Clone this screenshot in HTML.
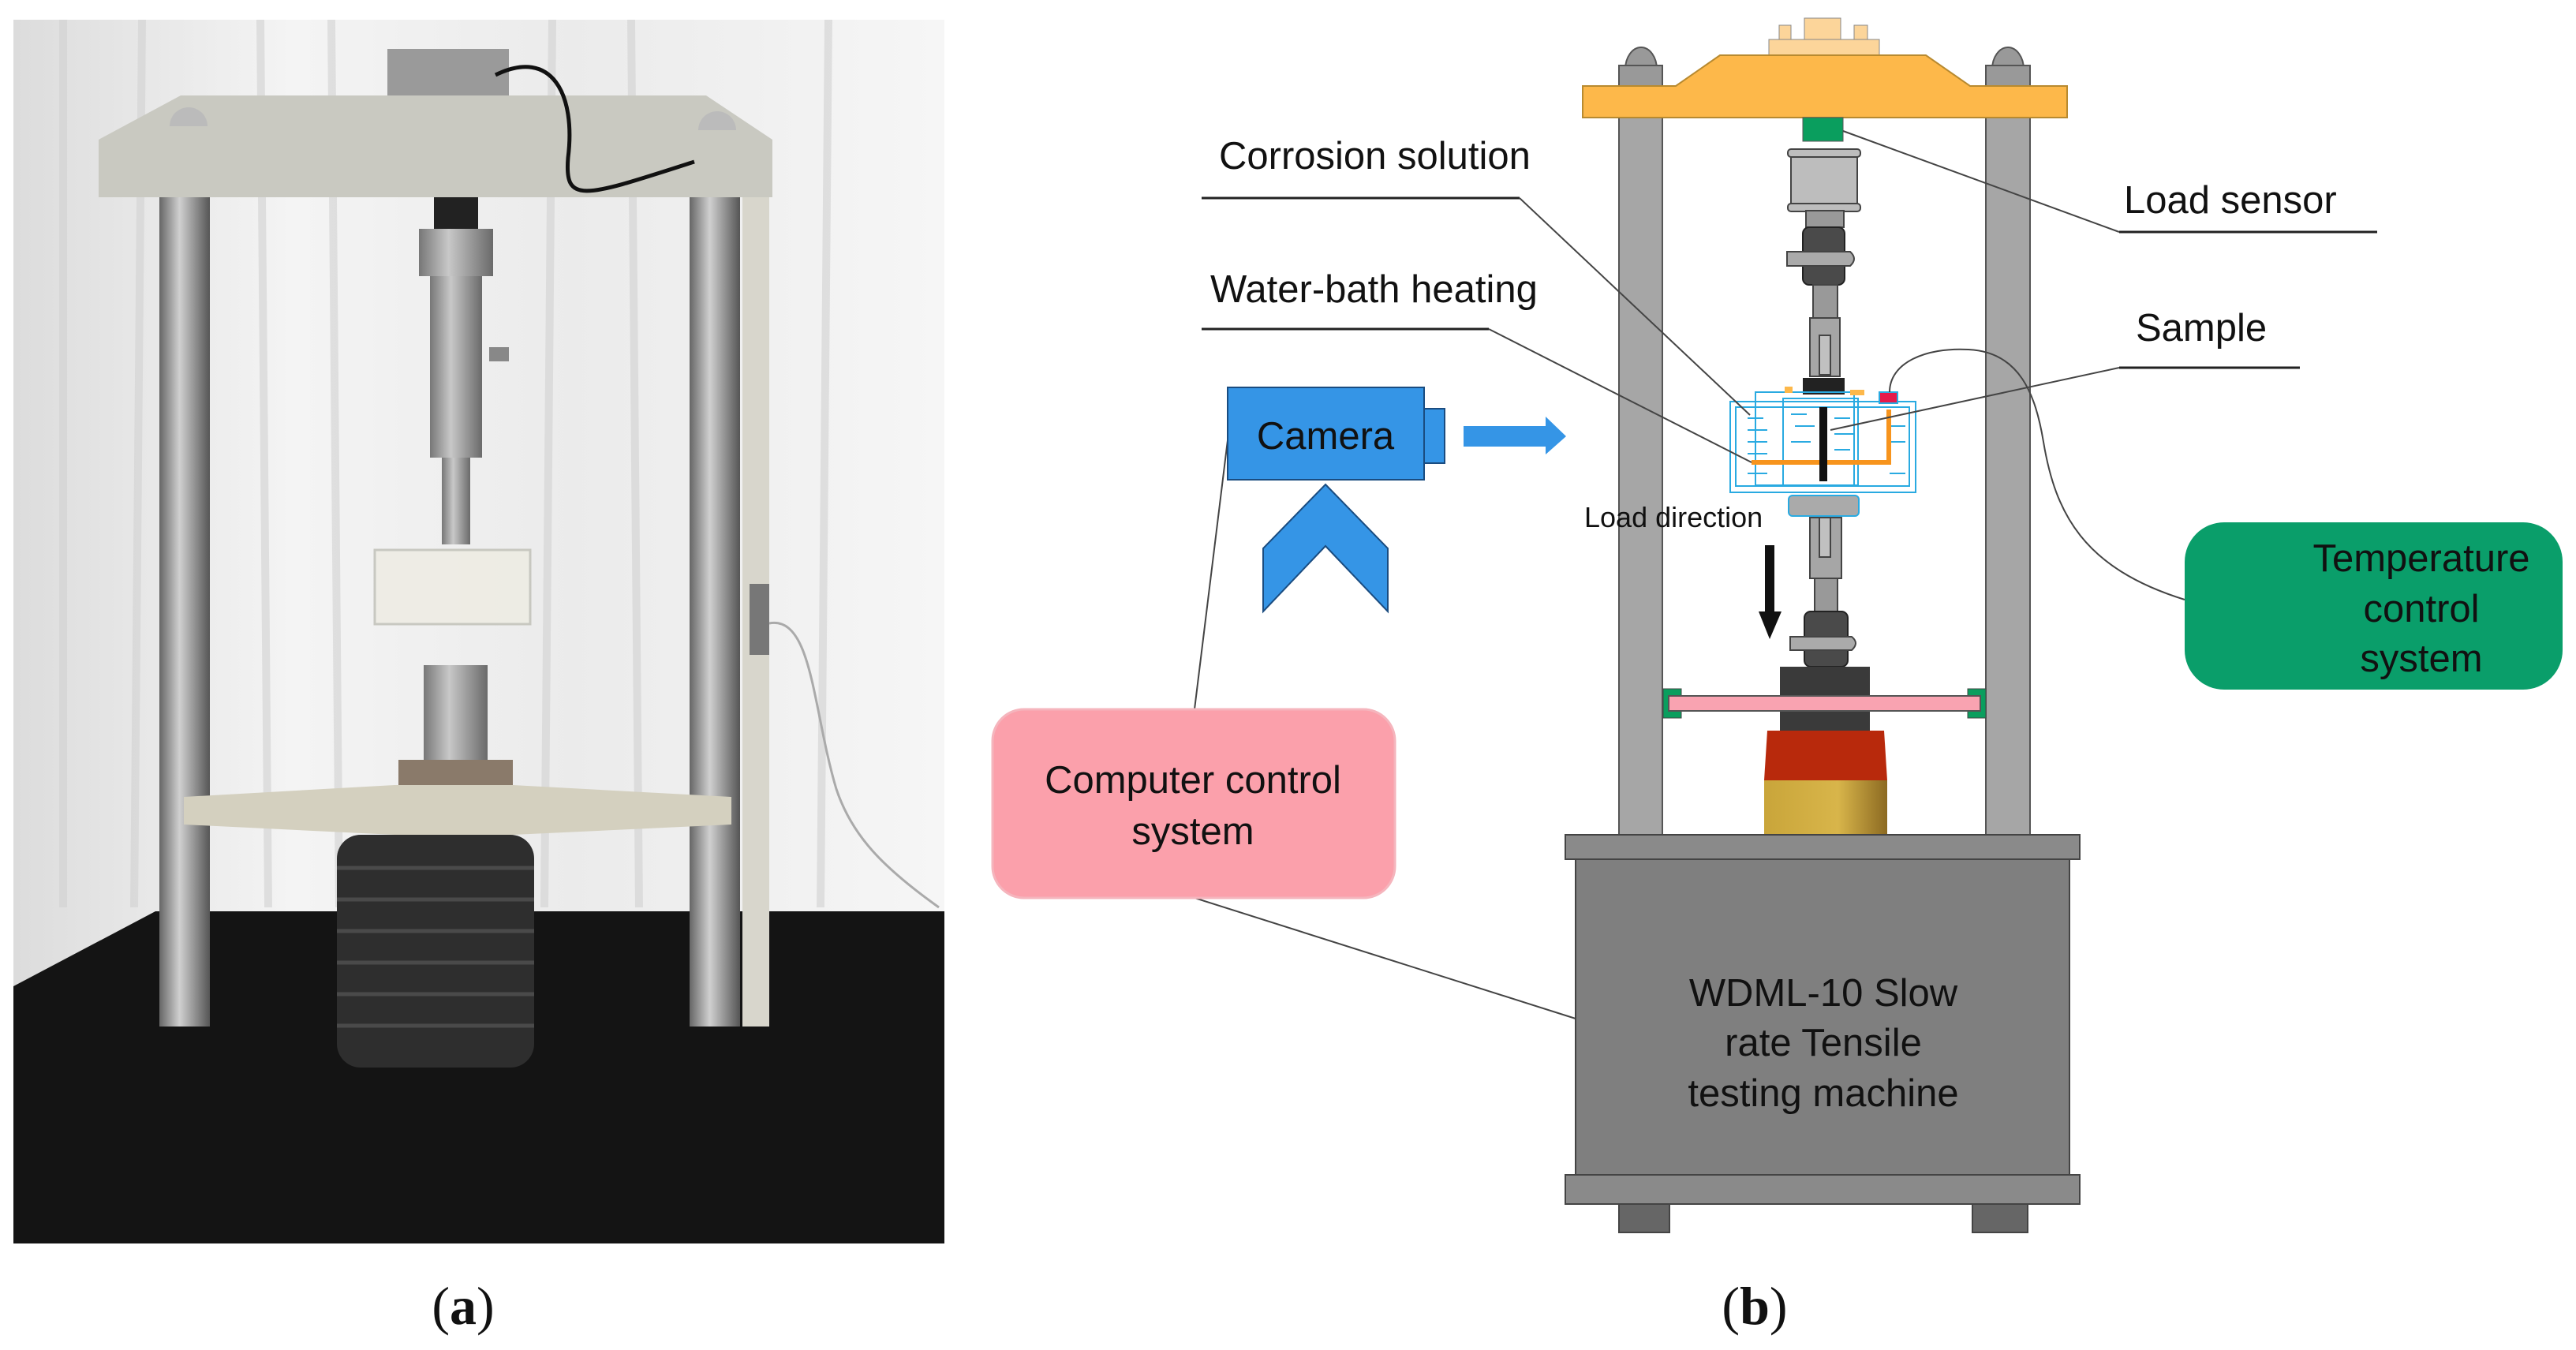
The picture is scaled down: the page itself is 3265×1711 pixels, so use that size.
<!DOCTYPE html>
<html><head><meta charset="utf-8"><style>
html,body{margin:0;padding:0;background:#fff;}
svg{display:block;}
text{font-family:"Liberation Sans",sans-serif;fill:#111;}
</style></head><body>
<svg width="3265" height="1711" viewBox="0 0 3265 1711" xmlns="http://www.w3.org/2000/svg">
<defs>
<linearGradient id="bg" x1="0" x2="1">
<stop offset="0" stop-color="#dcdcdc"/><stop offset="0.3" stop-color="#f4f4f4"/><stop offset="0.6" stop-color="#ebebeb"/><stop offset="1" stop-color="#f6f6f6"/>
</linearGradient>
<linearGradient id="col" x1="0" x2="1">
<stop offset="0" stop-color="#666"/><stop offset="0.4" stop-color="#d0d0d0"/><stop offset="1" stop-color="#555"/>
</linearGradient>
<linearGradient id="fix" x1="0" x2="1">
<stop offset="0" stop-color="#777"/><stop offset="0.4" stop-color="#c8c8c8"/><stop offset="1" stop-color="#6a6a6a"/>
</linearGradient>
<linearGradient id="gold" x1="0" x2="1">
<stop offset="0" stop-color="#c9a53a"/><stop offset="0.6" stop-color="#d8b54a"/><stop offset="1" stop-color="#8c6a22"/>
</linearGradient>
</defs>

<!-- Photo (a) -->
<rect x="17" y="25" width="1180" height="1551" fill="url(#bg)"/>
<g stroke="#d2d2d2" stroke-width="10" opacity="0.6">
<line x1="80" y1="25" x2="80" y2="1150"/><line x1="180" y1="25" x2="170" y2="1150"/><line x1="330" y1="25" x2="340" y2="1150"/><line x1="420" y1="25" x2="430" y2="1150"/><line x1="700" y1="25" x2="690" y2="1150"/><line x1="800" y1="25" x2="810" y2="1150"/><line x1="1050" y1="25" x2="1040" y2="1150"/>
</g>
<polygon points="197,1155 1197,1155 1197,1576 17,1576 17,1250" fill="#141414"/>
<rect x="491" y="62" width="154" height="60" fill="#9a9a9a"/>
<polygon points="125,177 229,121 895,121 979,177 979,250 125,250" fill="#c9c9c1"/>
<path d="M215,160 A24,24 0 0 1 263,160 Z" fill="#bbb"/><path d="M885,165 A24,24 0 0 1 933,165 Z" fill="#bbb"/>
<path d="M628,95 C700,60 730,120 720,200 C715,260 740,250 880,205" stroke="#111" stroke-width="5" fill="none"/>
<rect x="202" y="250" width="64" height="1051" fill="url(#col)"/>
<rect x="874" y="250" width="64" height="1051" fill="url(#col)"/>
<rect x="941" y="250" width="34" height="1051" fill="#d8d6cc"/>
<rect x="550" y="250" width="56" height="40" fill="#222"/>
<rect x="531" y="290" width="94" height="60" fill="url(#fix)"/>
<rect x="545" y="350" width="66" height="230" fill="url(#fix)"/>
<rect x="620" y="440" width="25" height="18" fill="#888"/>
<rect x="560" y="580" width="36" height="110" fill="url(#fix)"/>
<rect x="475" y="697" width="197" height="94" fill="#eeece4" stroke="#c4c4bc" stroke-width="3" opacity="0.9"/>
<rect x="537" y="843" width="81" height="120" fill="url(#fix)"/>
<rect x="505" y="963" width="145" height="36" fill="#8a7a6a"/>
<rect x="950" y="740" width="25" height="90" fill="#777"/>
<path d="M975,790 C1030,780 1030,900 1060,1000 C1080,1060 1120,1100 1190,1150" stroke="#aaa" stroke-width="3" fill="none"/>
<polygon points="233,1010 500,995 650,995 927,1010 927,1045 650,1058 500,1058 233,1045" fill="#d4d0bf"/>
<rect x="427" y="1058" width="250" height="295" rx="30" fill="#2e2e2e"/>
<g stroke="#4a4a4a" stroke-width="5"><line x1="427" y1="1100" x2="677" y2="1100"/><line x1="427" y1="1140" x2="677" y2="1140"/><line x1="427" y1="1180" x2="677" y2="1180"/><line x1="427" y1="1220" x2="677" y2="1220"/><line x1="427" y1="1260" x2="677" y2="1260"/><line x1="427" y1="1300" x2="677" y2="1300"/></g>
<text x="587" y="1678" font-size="68" text-anchor="middle" style="font-family:'Liberation Serif',serif">(<tspan font-weight="bold">a</tspan>)</text>

<!-- Diagram (b) -->
<rect x="2242" y="50" width="140" height="20" fill="#fcd59a" stroke="#888" stroke-width="1"/>
<rect x="2287" y="23" width="46" height="27" fill="#fcd59a" stroke="#888" stroke-width="1"/>
<rect x="2255" y="32" width="15" height="18" fill="#fcd59a" stroke="#888" stroke-width="1"/>
<rect x="2350" y="32" width="17" height="18" fill="#fcd59a" stroke="#888" stroke-width="1"/>
<path d="M2060,88 A20,28 0 0 1 2100,88 Z" fill="#999" stroke="#555" stroke-width="2"/>
<path d="M2525,88 A20,28 0 0 1 2565,88 Z" fill="#999" stroke="#555" stroke-width="2"/>
<rect x="2052" y="83" width="55" height="26" fill="#999" stroke="#555" stroke-width="2"/>
<rect x="2517" y="83" width="56" height="26" fill="#999" stroke="#555" stroke-width="2"/>
<rect x="2052" y="149" width="55" height="910" fill="#a6a6a6" stroke="#555" stroke-width="2"/>
<rect x="2517" y="149" width="56" height="910" fill="#a6a6a6" stroke="#555" stroke-width="2"/>
<polygon points="2006,109 2124,109 2180,70 2441,70 2497,109 2620,109 2620,149 2006,149" fill="#fdb84a" stroke="#b88a30" stroke-width="2"/>
<rect x="2285" y="149" width="51" height="30" fill="#0a9e5e" stroke="#555" stroke-width="1"/>
<rect x="2270" y="189" width="84" height="78" rx="6" fill="#bdbdbd" stroke="#444" stroke-width="2"/>
<rect x="2266" y="189" width="92" height="10" rx="4" fill="#bdbdbd" stroke="#444" stroke-width="2"/>
<rect x="2266" y="258" width="92" height="10" rx="4" fill="#bdbdbd" stroke="#444" stroke-width="2"/>
<rect x="2289" y="267" width="48" height="21" fill="#999" stroke="#444" stroke-width="2"/>
<rect x="2285" y="288" width="53" height="73" rx="8" fill="#4a4a4a" stroke="#222" stroke-width="2"/>
<path d="M2265,319 L2345,319 Q2355,328 2345,337 L2265,337 Z" fill="#aaa" stroke="#444" stroke-width="2"/>
<rect x="2298" y="361" width="31" height="42" fill="#999" stroke="#444" stroke-width="2"/>
<rect x="2294" y="403" width="38" height="74" fill="#a6a6a6" stroke="#444" stroke-width="2"/>
<rect x="2306" y="425" width="14" height="50" fill="#c0c0c0" stroke="#444" stroke-width="2"/>
<rect x="2285" y="479" width="53" height="21" fill="#222"/>
<g fill="none" stroke="#29aae1" stroke-width="2">
<rect x="2193" y="509" width="235" height="115"/>
<rect x="2200" y="516" width="220" height="100"/>
<rect x="2225" y="497" width="125" height="118"/>
<rect x="2260" y="505" width="95" height="110"/>
<line x1="2215" y1="530" x2="2235" y2="530"/><line x1="2215" y1="545" x2="2240" y2="545"/><line x1="2215" y1="560" x2="2240" y2="560"/><line x1="2215" y1="575" x2="2240" y2="575"/><line x1="2215" y1="600" x2="2240" y2="600"/>
<line x1="2270" y1="525" x2="2290" y2="525"/><line x1="2275" y1="540" x2="2300" y2="540"/><line x1="2325" y1="530" x2="2345" y2="530"/><line x1="2325" y1="550" x2="2350" y2="550"/><line x1="2270" y1="560" x2="2295" y2="560"/><line x1="2325" y1="570" x2="2345" y2="570"/>
<line x1="2395" y1="540" x2="2415" y2="540"/><line x1="2395" y1="560" x2="2415" y2="560"/><line x1="2395" y1="600" x2="2415" y2="600"/>
</g>
<rect x="2262" y="490" width="10" height="8" fill="#fdb84a"/>
<rect x="2345" y="494" width="18" height="7" fill="#fdb84a"/>
<polyline points="2220,586 2394,586 2394,519" fill="none" stroke="#f7941d" stroke-width="6"/>
<rect x="2306" y="516" width="10" height="94" fill="#111"/>
<rect x="2382" y="497" width="23" height="14" fill="#e6194b" stroke="#29aae1" stroke-width="2"/>
<rect x="2267" y="628" width="89" height="26" rx="5" fill="#aaa" stroke="#29aae1" stroke-width="2"/>
<rect x="2294" y="656" width="40" height="77" fill="#a6a6a6" stroke="#444" stroke-width="2"/>
<rect x="2306" y="656" width="14" height="50" fill="#c0c0c0" stroke="#444" stroke-width="2"/>
<rect x="2300" y="733" width="29" height="42" fill="#999" stroke="#444" stroke-width="2"/>
<rect x="2287" y="775" width="55" height="70" rx="8" fill="#4a4a4a" stroke="#222" stroke-width="2"/>
<path d="M2269,807 L2347,807 Q2357,815 2347,824 L2269,824 Z" fill="#aaa" stroke="#444" stroke-width="2"/>
<rect x="2256" y="845" width="114" height="81" fill="#3a3a3a"/>
<polygon points="2240,926 2388,926 2392,989 2236,989" fill="#b8290c"/>
<rect x="2236" y="989" width="156" height="68" fill="url(#gold)"/>
<rect x="2108" y="873" width="23" height="37" fill="#0a9e5e" stroke="#444" stroke-width="1"/>
<rect x="2494" y="873" width="23" height="37" fill="#0a9e5e" stroke="#444" stroke-width="1"/>
<rect x="2115" y="882" width="395" height="19" fill="#f9a3b1" stroke="#555" stroke-width="2"/>
<text x="2008" y="668" font-size="36">Load direction</text>
<rect x="2237" y="691" width="12" height="85" fill="#111"/>
<polygon points="2229,775 2258,775 2243,810" fill="#111"/>
<rect x="1984" y="1058" width="652" height="31" fill="#8a8a8a" stroke="#444" stroke-width="2"/>
<rect x="1997" y="1089" width="626" height="400" fill="#7f7f7f" stroke="#444" stroke-width="2"/>
<rect x="1984" y="1489" width="652" height="37" fill="#8a8a8a" stroke="#444" stroke-width="2"/>
<rect x="2052" y="1526" width="64" height="36" fill="#666" stroke="#444" stroke-width="2"/>
<rect x="2500" y="1526" width="70" height="36" fill="#666" stroke="#444" stroke-width="2"/>
<text x="2311" y="1275" font-size="49" text-anchor="middle">WDML-10 Slow</text>
<text x="2311" y="1338" font-size="49" text-anchor="middle">rate Tensile</text>
<text x="2311" y="1402" font-size="49" text-anchor="middle">testing machine</text>
<g stroke="#222" stroke-width="3" fill="none">
<polyline points="1523,251 1926,251"/>
<polyline points="1523,417 1887,417"/>
<polyline points="2686,294 3013,294"/>
<polyline points="2686,466 2915,466"/>
</g>
<g stroke="#444" stroke-width="2" fill="none">
<line x1="1926" y1="251" x2="2218" y2="526"/>
<line x1="1887" y1="417" x2="2220" y2="586"/>
<line x1="2336" y1="166" x2="2686" y2="294"/>
<line x1="2686" y1="466" x2="2320" y2="545"/>
<line x1="1556" y1="558" x2="1514" y2="899"/>
<line x1="1514" y1="1138" x2="1997" y2="1291"/>
<path d="M2395,497 C2395,460 2440,440 2495,443 C2560,446 2580,500 2590,560 C2605,650 2640,720 2769,760"/>
</g>
<text x="1545" y="214" font-size="49">Corrosion solution</text>
<text x="1534" y="383" font-size="49">Water-bath heating</text>
<text x="2692" y="270" font-size="49">Load sensor</text>
<text x="2707" y="432" font-size="49">Sample</text>
<rect x="2769" y="662" width="479" height="212" rx="50" fill="#0a9e6a"/>
<text x="3069" y="724" font-size="49" text-anchor="middle">Temperature</text>
<text x="3069" y="788" font-size="49" text-anchor="middle">control</text>
<text x="3069" y="851" font-size="49" text-anchor="middle">system</text>
<rect x="1556" y="491" width="249" height="117" fill="#3595e6" stroke="#1a4c80" stroke-width="2"/>
<rect x="1805" y="518" width="26" height="69" fill="#3595e6" stroke="#1a4c80" stroke-width="2"/>
<text x="1680" y="569" font-size="49" text-anchor="middle">Camera</text>
<polygon points="1855,540 1959,540 1959,528 1985,553 1959,576 1959,566 1855,566" fill="#3595e6"/>
<polygon points="1680,614 1759,695 1759,775 1680,692 1601,775 1601,695" fill="#3595e6" stroke="#1a4c80" stroke-width="2"/>
<rect x="1258" y="899" width="510" height="239" rx="40" fill="#fba0ab" stroke="#f5b5bd" stroke-width="3"/>
<text x="1512" y="1005" font-size="49" text-anchor="middle">Computer control</text>
<text x="1512" y="1070" font-size="49" text-anchor="middle">system</text>
<text x="2224" y="1678" font-size="68" text-anchor="middle" style="font-family:'Liberation Serif',serif">(<tspan font-weight="bold">b</tspan>)</text>
</svg>
</body></html>
